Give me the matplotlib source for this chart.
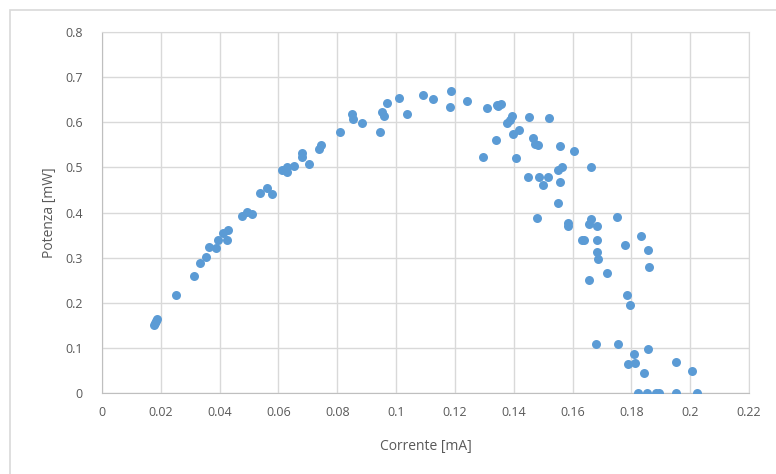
import matplotlib.pyplot as plt
from matplotlib.patches import Rectangle

# Corrente [mA]
corrente = [
    0.0178, 0.0180, 0.0183, 0.0186, 0.0251, 0.0314, 0.0333, 0.0354, 0.0365, 0.0388,
    0.0396, 0.0424, 0.0413, 0.0430, 0.0475, 0.0492, 0.0509, 0.0537, 0.0560, 0.0577,
    0.0611, 0.0628, 0.0630, 0.0653, 0.0679, 0.0679, 0.0705, 0.0739, 0.0744, 0.0809,
    0.0849, 0.0855, 0.0885, 0.0945, 0.0951, 0.0959, 0.0968, 0.1010, 0.1038, 0.1093,
    0.1127, 0.1186, 0.1183, 0.1242, 0.1295, 0.1308, 0.1342, 0.1340, 0.1347, 0.1356,
    0.1393, 0.1387, 0.1378, 0.1399, 0.1418, 0.1452, 0.1521, 0.1408, 0.1467, 0.1473,
    0.1481, 0.1557, 0.1606, 0.1447, 0.1487, 0.1498, 0.1518, 0.1549, 0.1565, 0.1557,
    0.1663, 0.1552, 0.1478, 0.1586, 0.1583, 0.1662, 0.1657, 0.1682, 0.1752, 0.1631,
    0.1639, 0.1682, 0.1682, 0.1688, 0.1716, 0.1657, 0.1833, 0.1778, 0.1857, 0.1860,
    0.1786, 0.1795, 0.1679, 0.1756, 0.1857, 0.1809, 0.1790, 0.1812, 0.1843, 0.1951,
    0.2007, 0.1822, 0.1852, 0.1883, 0.1895, 0.1951, 0.2022,
]
# Potenza [mW]
potenza = [
    0.150, 0.155, 0.160, 0.165, 0.217, 0.259, 0.289, 0.301, 0.323, 0.321,
    0.339, 0.339, 0.354, 0.361, 0.392, 0.402, 0.397, 0.443, 0.454, 0.441,
    0.494, 0.501, 0.490, 0.503, 0.531, 0.524, 0.507, 0.540, 0.550, 0.579,
    0.618, 0.607, 0.599, 0.579, 0.623, 0.614, 0.642, 0.654, 0.618, 0.660,
    0.651, 0.670, 0.634, 0.647, 0.524, 0.631, 0.638, 0.561, 0.636, 0.640,
    0.614, 0.605, 0.599, 0.573, 0.583, 0.612, 0.609, 0.521, 0.564, 0.552,
    0.550, 0.547, 0.537, 0.479, 0.479, 0.462, 0.478, 0.494, 0.501, 0.468,
    0.501, 0.420, 0.387, 0.377, 0.370, 0.385, 0.374, 0.370, 0.391, 0.338,
    0.338, 0.338, 0.313, 0.298, 0.267, 0.250, 0.349, 0.328, 0.318, 0.280,
    0.217, 0.194, 0.108, 0.108, 0.097, 0.086, 0.064, 0.067, 0.045, 0.068,
    0.049, 0.0, 0.0, 0.0, 0.0, 0.0, 0.0,
]

x_ticks = [0, 0.02, 0.04, 0.06, 0.08, 0.1, 0.12, 0.14, 0.16, 0.18, 0.2, 0.22]
x_labels = ["0", "0.02", "0.04", "0.06", "0.08", "0.1", "0.12", "0.14", "0.16", "0.18", "0.2", "0.22"]
y_ticks = [0, 0.1, 0.2, 0.3, 0.4, 0.5, 0.6, 0.7, 0.8]
y_labels = ["0", "0.1", "0.2", "0.3", "0.4", "0.5", "0.6", "0.7", "0.8"]

plt.rcParams["font.family"] = ["Open Sans", "DejaVu Sans"]

fig = plt.figure(figsize=(7.76, 4.74), dpi=100)
ax = fig.add_axes([102 / 776, 81 / 474, 647 / 776, 361 / 474])

# chart area border like Excel
fig.patches.append(Rectangle((10 / 776, -0.1), 1.2, (464 / 474) + 0.1,
                             transform=fig.transFigure, fill=False,
                             edgecolor="#D9D9D9", linewidth=1.2))

ax.scatter(corrente, potenza, s=42, color="#5B9BD5", zorder=3, linewidths=0)

ax.set_xlim(0, 0.22)
ax.set_ylim(0, 0.8)
ax.set_xticks(x_ticks)
ax.set_xticklabels(x_labels)
ax.set_yticks(y_ticks)
ax.set_yticklabels(y_labels)
ax.grid(True, color="#D9D9D9", linewidth=1)
ax.set_axisbelow(True)
for s in ax.spines.values():
    s.set_color("#D9D9D9")
ax.spines["bottom"].set_color("#BFBFBF")
ax.spines["left"].set_color("#BFBFBF")
ax.tick_params(length=0, labelsize=9, labelcolor="#595959")
ax.tick_params(axis="x", pad=9)
ax.tick_params(axis="y", pad=14)

ax.set_xlabel("Corrente [mA]", fontsize=10, color="#595959", labelpad=15)
ax.set_ylabel("Potenza [mW]", fontsize=10, color="#595959", labelpad=6)

fig.savefig("out.png", dpi=100)
